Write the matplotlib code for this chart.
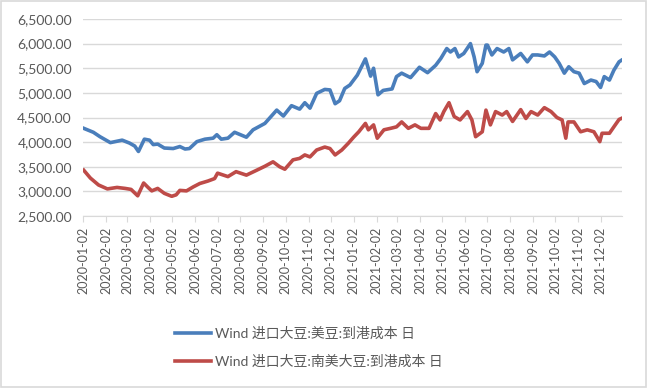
import numpy as np
import pandas as pd
import matplotlib
matplotlib.use("Agg")
import matplotlib.pyplot as plt
import matplotlib.dates as mdates
from matplotlib.ticker import FuncFormatter, MultipleLocator

# 美豆到港成本
us_dates = ["2020-01-03", "2020-01-16", "2020-01-25", "2020-02-08", "2020-02-24", "2020-03-05",
            "2020-03-12", "2020-03-17", "2020-03-25", "2020-04-01", "2020-04-06", "2020-04-12",
            "2020-04-21", "2020-05-03", "2020-05-12", "2020-05-19", "2020-05-25", "2020-06-04",
            "2020-06-15", "2020-06-26", "2020-07-01", "2020-07-07", "2020-07-16", "2020-07-25",
            "2020-08-10", "2020-08-19", "2020-09-04", "2020-09-20", "2020-09-29", "2020-10-10",
            "2020-10-21", "2020-10-28", "2020-11-04", "2020-11-13", "2020-11-24", "2020-12-01",
            "2020-12-08", "2020-12-14", "2020-12-21", "2020-12-28", "2021-01-07", "2021-01-18",
            "2021-01-25", "2021-01-29", "2021-02-04", "2021-02-11", "2021-02-23", "2021-03-01",
            "2021-03-08", "2021-03-20", "2021-04-01", "2021-04-12", "2021-04-23", "2021-04-30",
            "2021-05-08", "2021-05-13", "2021-05-19", "2021-05-24", "2021-05-31", "2021-06-09",
            "2021-06-14", "2021-06-18", "2021-06-25", "2021-06-30", "2021-07-02", "2021-07-08",
            "2021-07-15", "2021-07-24", "2021-07-31", "2021-08-05", "2021-08-16", "2021-08-25",
            "2021-09-01", "2021-09-08", "2021-09-17", "2021-09-24", "2021-10-01", "2021-10-07",
            "2021-10-14", "2021-10-20", "2021-10-27", "2021-11-03", "2021-11-10", "2021-11-19",
            "2021-11-26", "2021-12-02", "2021-12-07", "2021-12-14", "2021-12-20", "2021-12-27",
            "2021-12-30"]
us_vals = [4280, 4200, 4110, 3990, 4040, 3980,
           3920, 3810, 4060, 4040, 3950, 3960,
           3880, 3870, 3910, 3860, 3870, 4010,
           4060, 4080, 4150, 4060, 4080, 4200,
           4100, 4250, 4380, 4650, 4530, 4740,
           4670, 4800, 4690, 4990, 5070, 5060,
           4780, 4840, 5090, 5160, 5360, 5690,
           5340, 5500, 4960, 5050, 5080, 5330,
           5400, 5310, 5520, 5410, 5560, 5700,
           5900, 5830, 5900, 5730, 5800, 6000,
           5730, 5430, 5600, 5970, 5970, 5770,
           5900, 5830, 5900, 5670, 5800, 5630,
           5770, 5770, 5750, 5830, 5730, 5600,
           5400, 5530, 5430, 5400, 5190, 5260,
           5230, 5110, 5330, 5260, 5460, 5630,
           5660]

# 南美大豆到港成本
sa_dates = ["2020-01-03", "2020-01-12", "2020-01-23", "2020-02-04", "2020-02-17", "2020-02-28",
            "2020-03-07", "2020-03-16", "2020-03-24", "2020-03-30", "2020-04-04", "2020-04-12",
            "2020-04-21", "2020-05-01", "2020-05-07", "2020-05-12", "2020-05-21", "2020-05-30",
            "2020-06-08", "2020-06-19", "2020-06-28", "2020-07-02", "2020-07-16", "2020-07-27",
            "2020-08-10", "2020-08-24", "2020-09-04", "2020-09-15", "2020-09-24", "2020-10-01",
            "2020-10-12", "2020-10-21", "2020-10-28", "2020-11-04", "2020-11-13", "2020-11-24",
            "2020-12-01", "2020-12-08", "2020-12-17", "2020-12-26", "2021-01-02", "2021-01-09",
            "2021-01-18", "2021-01-22", "2021-01-29", "2021-02-03", "2021-02-12", "2021-02-21",
            "2021-03-01", "2021-03-08", "2021-03-17", "2021-03-26", "2021-04-03", "2021-04-14",
            "2021-04-23", "2021-04-29", "2021-05-04", "2021-05-11", "2021-05-18", "2021-05-26",
            "2021-06-05", "2021-06-11", "2021-06-16", "2021-06-25", "2021-06-30", "2021-07-06",
            "2021-07-13", "2021-07-22", "2021-07-28", "2021-08-05", "2021-08-16", "2021-08-23",
            "2021-08-30", "2021-09-08", "2021-09-17", "2021-09-26", "2021-10-04", "2021-10-11",
            "2021-10-16", "2021-10-19", "2021-10-27", "2021-11-05", "2021-11-14", "2021-11-23",
            "2021-12-01", "2021-12-04", "2021-12-14", "2021-12-20", "2021-12-27", "2021-12-30"]
sa_vals = [3430, 3270, 3130, 3050, 3080, 3060,
           3040, 2910, 3170, 3080, 3010, 3060,
           2960, 2900, 2930, 3020, 3010, 3090,
           3160, 3210, 3260, 3370, 3300, 3400,
           3330, 3430, 3510, 3600, 3500, 3450,
           3640, 3670, 3740, 3700, 3840, 3900,
           3870, 3740, 3840, 3980, 4100, 4210,
           4380, 4250, 4350, 4080, 4250, 4280,
           4310, 4410, 4280, 4350, 4280, 4280,
           4580, 4450, 4620, 4800, 4520, 4450,
           4620, 4450, 4110, 4210, 4650, 4350,
           4620, 4550, 4620, 4420, 4660, 4480,
           4620, 4550, 4700, 4620, 4500, 4450,
           4080, 4410, 4410, 4210, 4250, 4210,
           4010, 4180, 4180, 4310, 4460, 4480]

labels = ["Wind 进口大豆:美豆:到港成本 日", "Wind 进口大豆:南美大豆:到港成本 日"]

plt.rcParams['font.family'] = ['Lato', 'Noto Sans CJK SC', 'DejaVu Sans']
grey = '#595959'
line_grey = '#d9d9d9'

fig = plt.figure(figsize=(6.47, 3.88), dpi=100)
fig.patch.set_facecolor('white')
ax = fig.add_axes([83 / 647, 1 - 216 / 388, (622 - 83) / 647, (216 - 19) / 388])

ax.plot(pd.to_datetime(us_dates), us_vals, color='#4a7ebb', lw=2.6, label=labels[0],
        solid_joinstyle='round')
ax.plot(pd.to_datetime(sa_dates), sa_vals, color='#be4b48', lw=2.6, label=labels[1],
        solid_joinstyle='round')

ax.set_ylim(2500, 6500)
ax.yaxis.set_major_locator(MultipleLocator(500))
ax.yaxis.set_major_formatter(FuncFormatter(lambda v, p: f"{v:,.2f}"))
ax.grid(axis='y', color=line_grey, lw=1)
ax.set_axisbelow(True)

ax.set_xlim(pd.Timestamp("2020-01-02"), pd.Timestamp("2021-12-31"))
ticks = pd.date_range("2020-01-02", "2021-12-02", freq=pd.DateOffset(months=1))
ax.set_xticks(ticks)
ax.xaxis.set_major_formatter(mdates.DateFormatter('%Y-%m-%d'))
ax.tick_params(axis='x', labelrotation=90, labelsize=9, colors=grey, length=4,
               color=line_grey, pad=4)
ax.tick_params(axis='y', labelsize=10, colors=grey, length=0, pad=8)

for s in ['left', 'right', 'top']:
    ax.spines[s].set_visible(False)
ax.spines['bottom'].set_color(line_grey)

fig.legend(loc='upper left', bbox_to_anchor=(175 / 647, 1 - 327 / 388), frameon=False,
           fontsize=10, handlelength=2.6, handletextpad=0.3, labelspacing=1.05,
           borderpad=0, borderaxespad=0, labelcolor=grey)

# 外框
fig.add_artist(plt.Rectangle((0.001, 0.002), 0.997, 0.995, transform=fig.transFigure,
                             fill=False, edgecolor=line_grey, lw=1.2))

fig.savefig('out.png', dpi=100)
